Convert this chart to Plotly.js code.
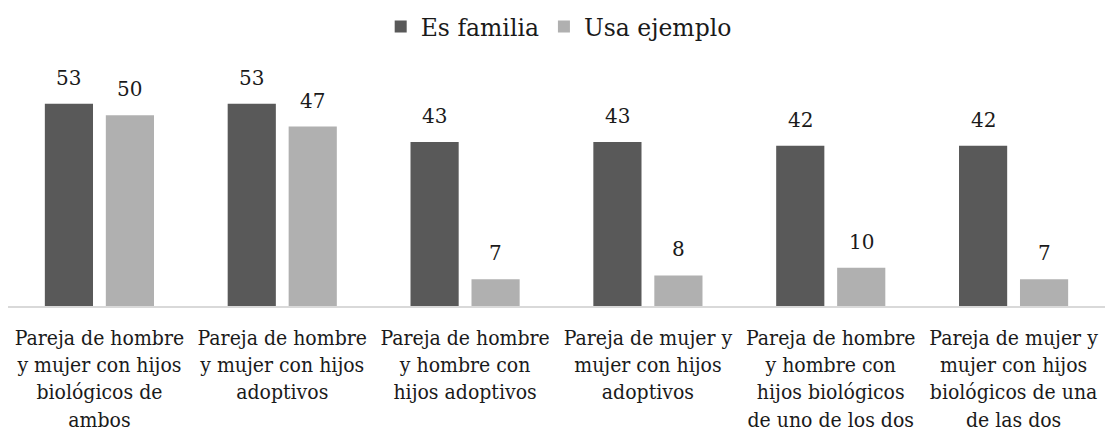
<!DOCTYPE html>
<html>
<head>
<meta charset="utf-8">
<script src="https://cdn.plot.ly/plotly-3.0.1.min.js"></script>
<style>
html,body{margin:0;padding:0;background:#fff;}
#chart{width:1105px;height:432px;}
#chart .xtick text{font-family:"DejaVu Serif Condensed","DejaVu Serif",serif !important;font-stretch:condensed;}
</style>
</head>
<body>
<div id="chart"></div>
<script>
const categories = [
  "Pareja de hombre<br>y mujer con hijos<br>biológicos de<br>ambos",
  "Pareja de hombre<br>y mujer con hijos<br>adoptivos",
  "Pareja de hombre<br>y hombre con<br>hijos adoptivos",
  "Pareja de mujer y<br>mujer con hijos<br>adoptivos",
  "Pareja de hombre<br>y hombre con<br>hijos biológicos<br>de uno de los dos",
  "Pareja de mujer y<br>mujer con hijos<br>biológicos de una<br>de las dos"
];
const esFamilia = [53, 53, 43, 43, 42, 42];
const usaEjemplo = [50, 47, 7, 8, 10, 7];
const seriesNames = ["Es familia", "Usa ejemplo"];

const FONT = 'DejaVu Serif';
const TXT = '#1a1a1a';

const traces = [
  {type: 'bar', name: seriesNames[0], x: categories, y: esFamilia,
   marker: {color: '#595959'}},
  {type: 'bar', name: seriesNames[1], x: categories, y: usaEjemplo,
   marker: {color: '#b0b0b0'}}
];

// value labels placed at each bar's own data value
const annotations = [];
categories.forEach((c, i) => {
  annotations.push({x: c, y: esFamilia[i], text: String(esFamilia[i]), showarrow: false,
    xshift: -30.5, yshift: 12, yanchor: 'bottom', font: {family: FONT, size: 20, color: TXT}});
  annotations.push({x: c, y: usaEjemplo[i], text: String(usaEjemplo[i]), showarrow: false,
    xshift: 30.5, yshift: 12, yanchor: 'bottom', font: {family: FONT, size: 20, color: TXT}});
});

const layout = {
  width: 1105, height: 432,
  margin: {l: 8, r: 0, t: 76.5, b: 125.5},
  paper_bgcolor: '#fff', plot_bgcolor: '#fff',
  font: {family: FONT, size: 20, color: TXT},
  barmode: 'group', bargap: 0.333, bargroupgap: 0.21,
  showlegend: true,
  legend: {orientation: 'h', x: 0.502, xanchor: 'center', y: 1.22, yanchor: 'middle',
           font: {family: FONT, size: 23.5, color: TXT}, itemwidth: 30},
  xaxis: {showline: true, linecolor: '#d9d9d9', linewidth: 1.5, ticks: '',
          tickangle: 0, ticklabelstandoff: 12, showgrid: false, zeroline: false,
          tickfont: {family: FONT, size: 21, color: TXT}},
  yaxis: {range: [0, 60], visible: false, showgrid: false, zeroline: false},
  annotations: annotations
};

Plotly.newPlot('chart', traces, layout, {displayModeBar: false, staticPlot: true});
</script>
</body>
</html>
